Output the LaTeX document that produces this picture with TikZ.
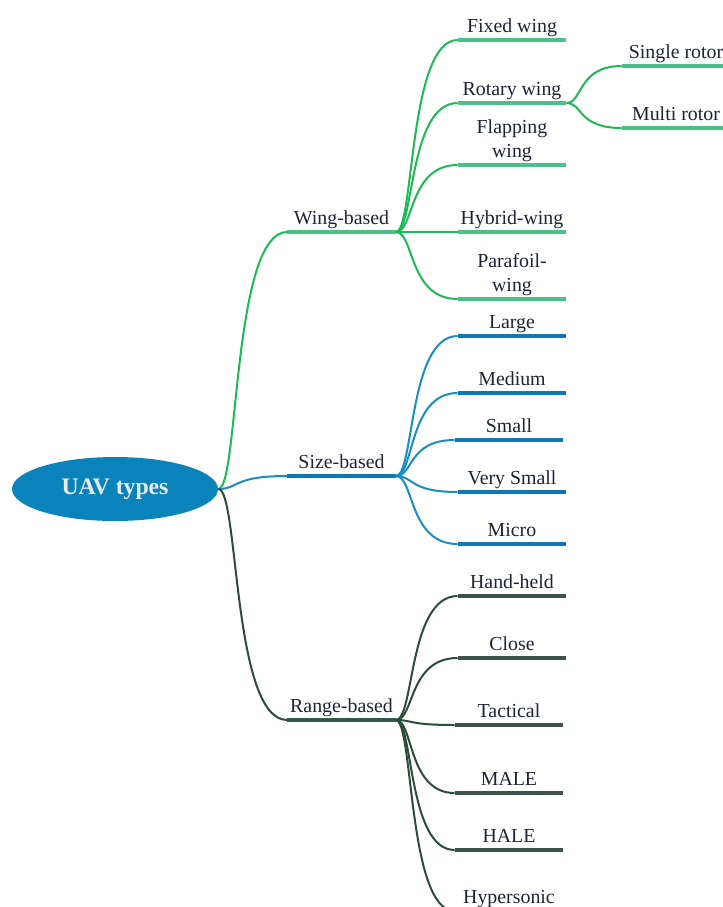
\documentclass[tikz,border=0pt]{standalone}
\usepackage{fontspec}
\setmainfont{Liberation Serif}
\usepackage{tikz}
\usetikzlibrary{shapes.geometric, calc}
\usepackage{xcolor}
\definecolor{rootfill}{HTML}{0A83BB}
\definecolor{roottext}{HTML}{E6ECF4}
\definecolor{txt}{HTML}{1C2333}
\definecolor{wingcurve}{HTML}{1DB954}
\definecolor{wingbar}{HTML}{4CBE8C}
\definecolor{sizecurve}{HTML}{1A8CC2}
\definecolor{sizebar}{HTML}{0F78B4}
\definecolor{rangecurve}{HTML}{2C4B38}
\definecolor{rangebar}{HTML}{3B5449}
\tikzset{%
	topic/.style={
		anchor=south,
		minimum width=21.6mm,
		inner xsep=0pt,
		inner ysep=1.4mm,
		text depth=0pt,
		align=center,
		text=txt,
		font=\fontsize{11.3}{13.6}\selectfont,
		append after command={(\tikzlastnode.south west) edge[line width=0.8mm, #1] (\tikzlastnode.south east)}
	},
	branch/.style={
		line width=0.4mm,
		#1,
		to path={let \p1=(\tikztostart), \p2=(\tikztotarget) in
			.. controls ({\x1+0.3*(\x2-\x1)},\y1) and ({\x1+0.2*(\x2-\x1)},\y2) .. (\tikztotarget)}
	},
}
\begin{document}
\begin{tikzpicture}[x=0.2mm, y=-0.2mm]
			\useasboundingbox (0,0) rectangle (723,907);
			\clip (0,0) rectangle (723,907);
			
			% Root
			\node[ellipse, fill=rootfill, minimum width=41.2mm, minimum height=12.8mm, inner sep=0pt,
				text=roottext, font=\fontsize{13.5}{16}\selectfont\bfseries] (uav) at (115,489) {\raisebox{-1pt}{UAV types}};
			
			% First level
			\node[topic=wingbar] (wing) at (341.5,232) {Wing-based};
			\node[topic=sizebar] (size) at (341.5,476) {Size-based};
			\node[topic=rangebar] (range) at (341.5,720) {Range-based};
			
			\draw[branch=wingcurve] (uav.east) to (wing.south west);
			\draw[branch=sizecurve] (uav.east) to (size.south west);
			\draw[branch=rangecurve] (uav.east) to (range.south west);
			
			% Wing-based
			\node[topic=wingbar] (fixed) at (512,40) {Fixed wing};
			\node[topic=wingbar] (rotary) at (512,103) {Rotary wing};
			\node[topic=wingbar] (flapping) at (512,165) {Flapping\\wing};
			\node[topic=wingbar] (hybrid) at (512,232) {Hybrid-wing};
			\node[topic=wingbar] (parafoil) at (512,299) {Parafoil-\\wing};
			\foreach \leaf in {fixed, rotary, flapping, hybrid, parafoil}
				\draw[branch=wingcurve] (wing.south east) to (\leaf.south west);
			
			% Rotary wing
			\node[topic=wingbar] (single) at (676,66) {Single rotor};
			\node[topic=wingbar] (multi) at (676,128) {Multi rotor};
			\draw[branch=wingcurve] (rotary.south east) to (single.south west);
			\draw[branch=wingcurve] (rotary.south east) to (multi.south west);
			
			% Size-based
			\node[topic=sizebar] (large) at (512,336) {Large};
			\node[topic=sizebar] (medium) at (512,393) {Medium};
			\node[topic=sizebar] (small) at (509,440) {Small};
			\node[topic=sizebar] (vsmall) at (512,492) {Very Small};
			\node[topic=sizebar] (micro) at (512,544) {Micro};
			\foreach \leaf in {large, medium, small, vsmall, micro}
				\draw[branch=sizecurve] (size.south east) to (\leaf.south west);
			
			% Range-based
			\node[topic=rangebar] (handheld) at (512,596) {Hand-held};
			\node[topic=rangebar] (close) at (512,658) {Close};
			\node[topic=rangebar] (tactical) at (509,725) {Tactical};
			\node[topic=rangebar] (male) at (509,793) {MALE};
			\node[topic=rangebar] (hale) at (509,850) {HALE};
			\node[topic=rangebar] (hyper) at (509,911) {Hypersonic};
			\foreach \leaf in {handheld, close, tactical, male, hale, hyper}
				\draw[branch=rangecurve] (range.south east) to (\leaf.south west);

		\end{tikzpicture}
\end{document}
